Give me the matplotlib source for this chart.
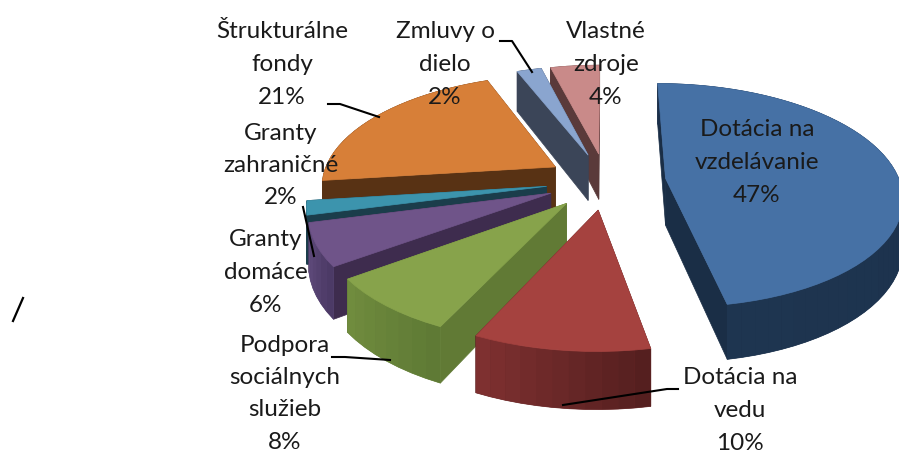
import numpy as np
import matplotlib
matplotlib.use('Agg')
import matplotlib.pyplot as plt
from matplotlib.colors import to_rgb

plt.rcParams['font.family'] = ['Lato', 'DejaVu Sans']

# ── Data ──────────────────────────────────────────────────────────
names = ['Dotácia na\nvzdelávanie', 'Dotácia na\nvedu',
         'Podpora\nsociálnych\nslužieb', 'Granty\ndomáce',
         'Granty\nzahraničné', 'Štrukturálne\nfondy',
         'Zmluvy o\ndielo', 'Vlastné\nzdroje']
values = [47, 10, 8, 6, 2, 21, 2, 4]

# ── Style ─────────────────────────────────────────────────────────
top_cols  = ['#4671A5', '#A5423F', '#87A34B', '#6F5489',
             '#3C94AD', '#D77F38', '#8AA5CF', '#C98A89']
face_cols = ['#1A2E46', '#4F1E1D', '#617A35', '#3E2C4E',
             '#1B3D4B', '#583214', '#3B4558', '#5A3A3A']
wall_a    = ['#1B2F4A', '#551F1F', '#5F7A35', '#4C3A66',
             '#1B3D4B', '#583214', '#3B4558', '#5A3A3A']
wall_b    = ['#1E3550', '#7E3030', '#708C3E', '#604B7C',
             '#1B3D4B', '#583214', '#3B4558', '#5A3A3A']
# the two bottom labels sit a little higher so their last line stays on the page
label_pos = [(757, 130), (740, 378), (285, 345), (266, 240),
             (281, 133), (282, 32), (445, 32), (606, 32)]
LINE_H = 32.5

CX, CY = 606, 181     # pie centre on screen
R      = 234          # radius in the pie plane
EXPL   = 60           # explosion distance
K      = 0.47         # vertical flattening
P      = 0.00065      # perspective strength
DEPTH  = 47           # extrusion height


def project(u, v):
    w = 1 - P * v
    return CX + u / w, CY + K * v / w, w


def mix(c1, c2, t):
    a, b = np.array(to_rgb(c1)), np.array(to_rgb(c2))
    return tuple(a + (b - a) * t)


fig = plt.figure(figsize=(8.99, 4.55), dpi=100)
ax = fig.add_axes([0, 0, 1, 1])
ax.set_xlim(0, 899)
ax.set_ylim(455, 0)
ax.axis('off')

# slice angles, clockwise from the top
edges = np.concatenate([[0], np.cumsum(values)]) / sum(values) * 2 * np.pi
slices = []
for i in range(len(values)):
    a0, a1 = edges[i], edges[i + 1]
    mid = (a0 + a1) / 2
    slices.append((-np.cos(mid), i, a0, a1, mid))

# painter's order: far slices first
for _, i, a0, a1, mid in sorted(slices):
    tu, tv = EXPL * np.sin(mid), -EXPL * np.cos(mid)
    angs = np.linspace(a0, a1, max(int(np.degrees(a1 - a0) / 3), 4))
    us = tu + R * np.sin(angs)
    vs = tv - R * np.cos(angs)
    xs, ys, ws = project(us, vs)
    dy = DEPTH / ws
    tx, ty, tw = project(tu, tv)
    tdy = DEPTH / tw

    # radial faces go first, the wall hides whichever one faces away
    for k in (0, -1):
        ax.fill([tx, xs[k], xs[k], tx],
                [ty, ys[k], ys[k] + dy[k], ty + tdy],
                color=face_cols[i], lw=0.5)

    # outer wall: base shape, then strips for the gradient
    ax.fill(np.r_[xs, xs[::-1]], np.r_[ys, (ys + dy)[::-1]],
            color=mix(wall_a[i], wall_b[i], 0.5), lw=0.5)
    for j in range(len(angs) - 1):
        col = mix(wall_a[i], wall_b[i], j / max(len(angs) - 2, 1))
        ax.fill([xs[j], xs[j + 1], xs[j + 1], xs[j]],
                [ys[j], ys[j + 1], ys[j + 1] + dy[j + 1], ys[j] + dy[j]],
                facecolor=col, edgecolor='none')

    # top surface
    ax.fill(np.r_[tx, xs], np.r_[ty, ys], color=top_cols[i], lw=0.5)

# ── Labels ────────────────────────────────────────────────────────
for name, val, (x, y) in zip(names, values, label_pos):
    for n, line in enumerate(name.split('\n') + [f'{val}%']):
        ax.text(x, y + n * LINE_H, line, ha='center', va='center',
                fontsize=17.5, color='#1A1A1A', zorder=5)

# leader lines
leaders = [
    [(328, 104), (340, 104), (379, 117)],
    [(500, 41), (512, 41), (532, 72)],
    [(303, 207), (314, 256)],
    [(332, 357), (345, 357), (390, 360)],
    [(678, 389), (667, 389), (563, 405)],
]
for pts in leaders:
    lx, ly = zip(*pts)
    ax.plot(lx, ly, color='black', lw=1.5, zorder=4)

# stray mark on the left of the page
ax.plot([13, 23], [321, 298], color='black', lw=1.6, zorder=4)

fig.savefig('out.png', dpi=100)
